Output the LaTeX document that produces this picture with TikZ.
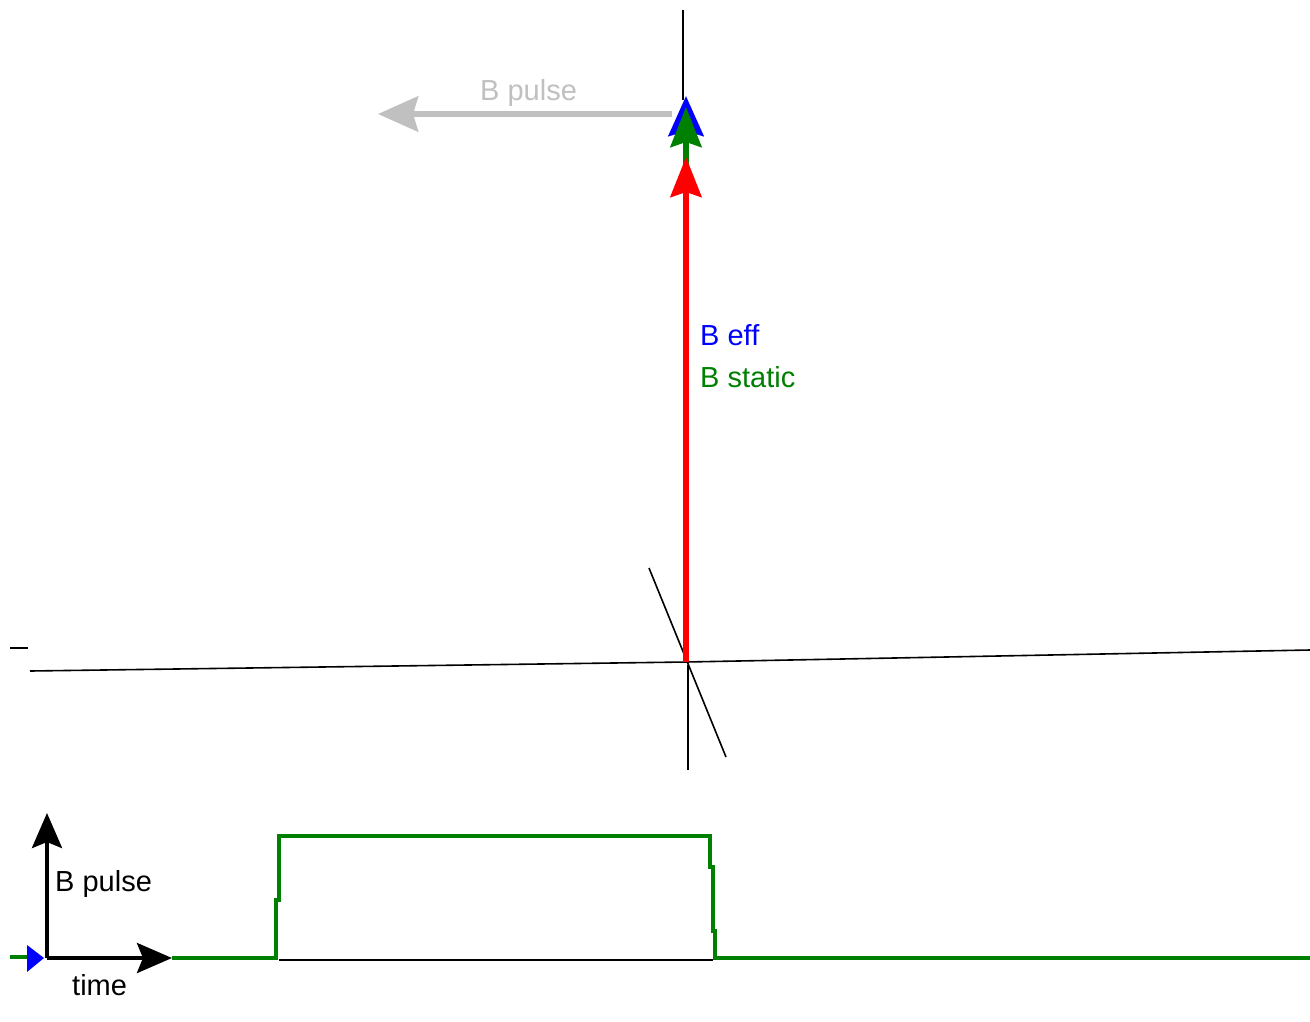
\documentclass[tikz,border=0pt]{standalone}
\usepackage{fontspec}
\setmainfont{Liberation Sans}
\usetikzlibrary{arrows.meta}
\definecolor{fieldred}{RGB}{255,0,0}
\definecolor{fieldgreen}{RGB}{0,128,0}
\definecolor{fieldblue}{RGB}{0,0,255}
\definecolor{pulsegray}{RGB}{192,192,192}
\tikzset{
  label text/.style={font=\fontsize{29}{29}\selectfont, inner sep=0pt, anchor=base west},
  axis line/.style={black, line width=1.6pt},
  vector/.style={line width=6pt, -{Stealth[length=40pt, width=31pt, inset=5pt]}},
  wide vector/.style={line width=6pt, -{Stealth[length=40pt, width=35pt, inset=5pt]}},
  small vector/.style={line width=4pt, -{Stealth[length=35pt, width=30pt, inset=6pt]}},
  pulse line/.style={fieldgreen, line width=4pt, line join=miter},
}
\begin{document}
\begin{tikzpicture}[x=1pt, y=-1pt]
  \useasboundingbox[fill=white] (0,0) rectangle (1310,1021);

  % laboratory frame
  \coordinate (O) at (686,662);
  \coordinate (zTop) at (683,10);
  \coordinate (zTopEnd) at (683,100);
  \coordinate (xLeft) at (30,671);
  \coordinate (xRight) at (1310,650);
  \coordinate (tick) at (10,648);
  \coordinate (tickEnd) at (28,648);
  \coordinate (diagA) at (649,568);
  \coordinate (diagB) at (726,757);
  \coordinate (zDown) at (688,665);
  \coordinate (zDownEnd) at (688,770);

  \draw[axis line] (zTop) -- (zTopEnd);
  \draw[axis line] (xLeft) -- (O) -- (xRight);
  \draw[axis line] (tick) -- (tickEnd);
  \draw[axis line] (diagA) -- (diagB);
  \draw[axis line] (zDown) -- (zDownEnd);

  % field vectors
  \coordinate (pulseStart) at (672,114);
  \coordinate (pulseTip) at (378,114);
  \coordinate (effTip) at (686,96);
  \coordinate (staticTip) at (686,107);
  \coordinate (redTip) at (686,157);

  \draw[wide vector, pulsegray] (pulseStart) -- (pulseTip);
  \draw[wide vector, fieldblue] (O) -- (effTip);
  \draw[vector, fieldgreen] (O) -- (staticTip);
  \draw[vector, fieldred] (O) -- (redTip);

  \node[label text, text=pulsegray] (lblPulseTop) at (480,100) {B pulse};
  \node[label text, text=fieldblue] (lblEff) at (700,345) {B eff};
  \node[label text, text=fieldgreen] (lblStatic) at (700,387) {B static};

  % pulse timing plot
  \coordinate (tO) at (47,958);
  \coordinate (tUp) at (47,813);
  \coordinate (tRight) at (172,958);

  \draw[pulse line] (10,957) -- (30,957);
  \draw[pulse line] (tRight) -- (276,958) -- (276,900) -- (279,900) -- (279,836)
    -- (710,836) -- (710,867) -- (713,867) -- (713,931) -- (715,931) -- (715,958) -- (1310,958);
  \draw[black, line width=2pt] (279,960) -- (713,960);

  \fill[fieldblue] (27,945) -- (44,958) -- (27,972) -- cycle;
  \draw[small vector, black] (tO) -- (tUp);
  \draw[small vector, black] (tO) -- (tRight);

  \node[label text] (lblPulseAxis) at (55,891) {B pulse};
  \node[label text] (lblTime) at (72,995) {time};
\end{tikzpicture}
\end{document}
